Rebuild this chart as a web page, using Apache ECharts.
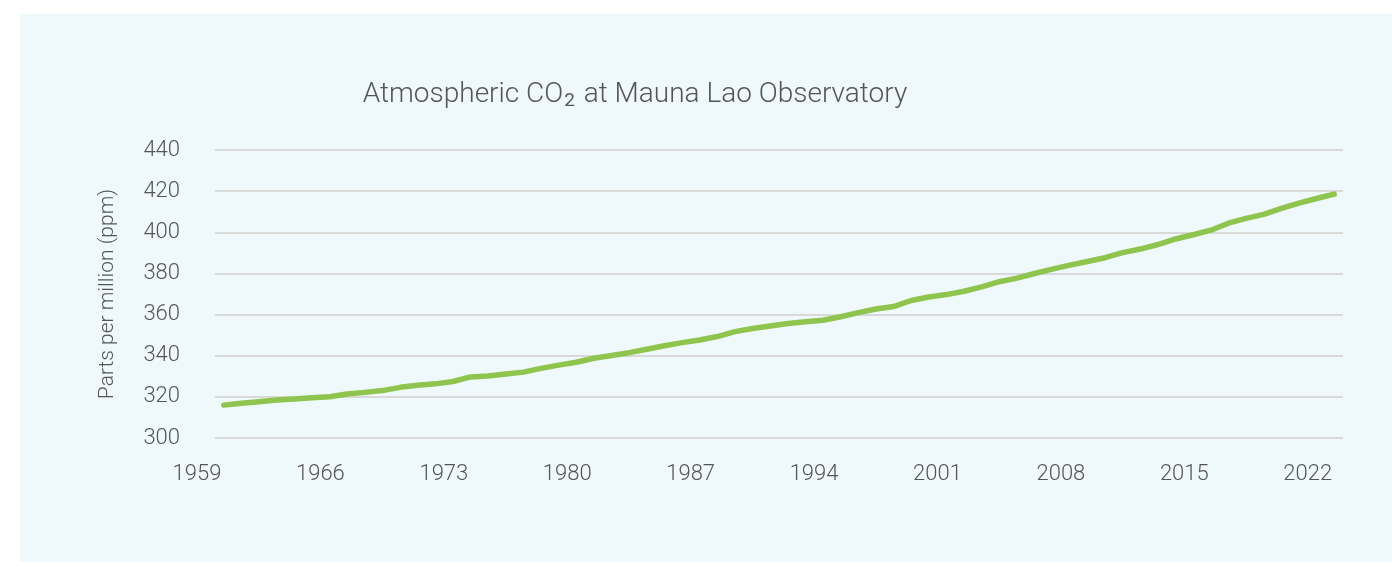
<!DOCTYPE html>
<html>
<head>
<meta charset="utf-8">
<script src="https://cdn.jsdelivr.net/npm/echarts@6/dist/echarts.min.js"></script>
<style>
  html, body { margin: 0; padding: 0; background: #ffffff; }
  #chart { width: 1392px; height: 562px; }
</style>
</head>
<body>
<div id="chart"></div>
<script>
// annual mean CO2 (ppm), one point per year
const years = [
  1959, 1960, 1961, 1962, 1963, 1964, 1965, 1966, 1967, 1968, 1969, 1970,
  1971, 1972, 1973, 1974, 1975, 1976, 1977, 1978, 1979, 1980, 1981, 1982,
  1983, 1984, 1985, 1986, 1987, 1988, 1989, 1990, 1991, 1992, 1993, 1994,
  1995, 1996, 1997, 1998, 1999, 2000, 2001, 2002, 2003, 2004, 2005, 2006,
  2007, 2008, 2009, 2010, 2011, 2012, 2013, 2014, 2015, 2016, 2017, 2018,
  2019, 2020, 2021, 2022,
]
const co2 = [
  315.98, 316.91, 317.64, 318.45, 318.99, 319.62, 320.04, 321.37, 322.18, 323.05, 324.62, 325.68,
  326.32, 327.46, 329.68, 330.19, 331.12, 332.03, 333.84, 335.41, 336.84, 338.76, 340.12, 341.48,
  343.15, 344.87, 346.35, 347.61, 349.31, 351.69, 353.2, 354.45, 355.7, 356.54, 357.21, 358.96,
  360.97, 362.74, 363.88, 366.84, 368.54, 369.71, 371.32, 373.45, 375.98, 377.7, 379.98, 382.09,
  384.02, 385.83, 387.64, 390.1, 391.85, 394.06, 396.74, 398.81, 401.01, 404.41, 406.76, 408.72,
  411.65, 414.21, 416.41, 418.53,
]
const xTickLabels = ['1959', '1966', '1973', '1980', '1987', '1994', '2001', '2008', '2015', '2022']
const yTicks = { min: 300, max: 440, step: 20 }

const FONT = 'Roboto, "Liberation Sans", sans-serif'
const TEXT = '#555555'

const chart = echarts.init(document.getElementById('chart'), null, { renderer: 'canvas' })

chart.setOption({
  backgroundColor: '#ffffff',
  animation: false,
  graphic: [
    {
      type: 'rect',
      left: 20,
      top: 14,
      z: -10,
      shape: { width: 1372, height: 548 },
      style: { fill: '#eff8fb' },
    },
  ],
  title: {
    text: '{a|Atmospheric CO}{s|2}{a| at Mauna Lao Observatory}',
    left: 630,
    textAlign: 'center',
    top: 73,
    textStyle: {
      rich: {
        a: { fontFamily: FONT, fontWeight: 300, fontSize: 28, color: TEXT },
        s: { fontFamily: FONT, fontWeight: 400, fontSize: 19, color: TEXT, padding: [14, 2, 0, 1] },
      },
    },
  },
  grid: [
    // plot area (data + horizontal gridlines)
    { left: 215, right: 49, top: 150, bottom: 124 },
    // label strip for the year ticks, offset like the original
    { left: 197, right: 49, top: 150, bottom: 124 },
  ],
  xAxis: [
    {
      type: 'category',
      gridIndex: 0,
      data: years,
      boundaryGap: true,
      axisLine: { show: false },
      axisTick: { show: false },
      axisLabel: { show: false },
      splitLine: { show: false },
    },
    {
      type: 'value',
      gridIndex: 1,
      min: 0,
      max: 65,
      interval: 7,
      axisLine: { show: false },
      axisTick: { show: false },
      splitLine: { show: false },
      axisLabel: {
        margin: 25,
        fontFamily: FONT,
        fontWeight: 300,
        fontSize: 22,
        color: TEXT,
        showMaxLabel: false,
        formatter: (v) => xTickLabels[v / 7] || '',
      },
    },
  ],
  yAxis: [
    {
      type: 'value',
      gridIndex: 0,
      min: yTicks.min,
      max: yTicks.max,
      interval: yTicks.step,
      name: 'Parts per million (ppm)',
      nameLocation: 'middle',
      nameGap: 97,
      nameTextStyle: { fontFamily: FONT, fontWeight: 300, fontSize: 21, color: TEXT },
      axisLine: { show: false },
      axisTick: { show: false },
      axisLabel: {
        margin: 35,
        fontFamily: FONT,
        fontWeight: 300,
        fontSize: 22,
        color: TEXT,
        padding: [5, 0, 0, 0],
      },
      splitLine: { lineStyle: { color: '#d9d9d9', width: 2 } },
    },
    {
      type: 'value',
      gridIndex: 1,
      show: false,
    },
  ],
  series: [
    {
      type: 'line',
      xAxisIndex: 0,
      yAxisIndex: 0,
      data: co2,
      symbol: 'none',
      lineStyle: { color: '#8fc54e', width: 5.5, cap: 'round', join: 'round' },
    },
  ],
})
</script>
</body>
</html>
